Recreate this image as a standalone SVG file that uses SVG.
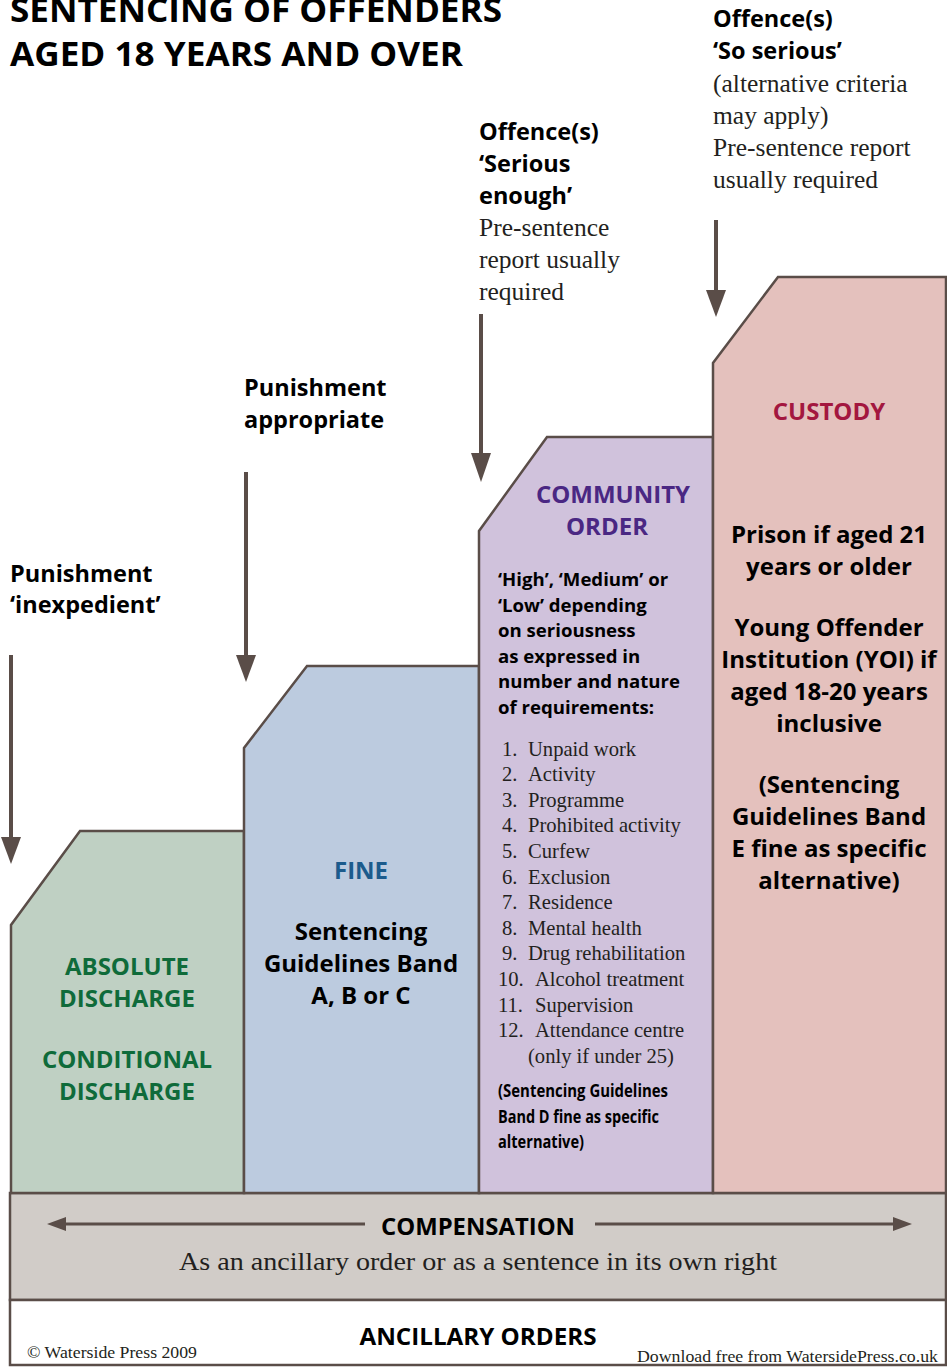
<svg xmlns="http://www.w3.org/2000/svg" width="947" height="1367" viewBox="0 0 947 1367">
<style>
.b{font-family:"Open Sans","Noto Sans",sans-serif;font-weight:700;}
.s{font-family:"Liberation Serif","Times New Roman",serif;fill:#231f20;}
.k{fill:#000;}
.col{stroke:#5a4d48;stroke-width:2.5;stroke-linejoin:miter;}
.conn{stroke:#5a4d48;stroke-width:4;fill:none;}
.ah{fill:#5a4d48;}
</style>
<rect x="0" y="0" width="947" height="1367" fill="#fff"/>

<g id="title">
<text class="b k" x="10" y="22" font-size="34" textLength="492" lengthAdjust="spacingAndGlyphs">SENTENCING OF OFFENDERS</text>
<text class="b k" x="10" y="66" font-size="34" textLength="453" lengthAdjust="spacingAndGlyphs">AGED 18 YEARS AND OVER</text>
</g>

<g id="band-compensation">
<rect x="10" y="1193" width="936" height="107" fill="#d1ccc8" class="col"/>
<text class="b k" x="478" y="1235" font-size="24" text-anchor="middle" textLength="194" lengthAdjust="spacingAndGlyphs">COMPENSATION</text>
<text class="s" x="478" y="1270" font-size="26" text-anchor="middle" textLength="598" lengthAdjust="spacingAndGlyphs">As an ancillary order or as a sentence in its own right</text>
</g>

<g id="band-ancillary">
<rect x="10" y="1300" width="936" height="65" fill="#fff" class="col"/>
<text class="b k" x="478" y="1345" font-size="24" text-anchor="middle" textLength="237" lengthAdjust="spacingAndGlyphs">ANCILLARY ORDERS</text>
<text class="s" x="27" y="1358" font-size="17" textLength="170" lengthAdjust="spacingAndGlyphs">© Waterside Press 2009</text>
<text class="s" x="938" y="1362" font-size="17" text-anchor="end" textLength="301" lengthAdjust="spacingAndGlyphs">Download free from WatersidePress.co.uk</text>
</g>

<g id="node-discharge">
<path class="col" fill="#bfd0c3" d="M11,1193 L11,925 L80,831 L244,831 L244,1193 Z"/>
<g class="b" fill="#0f6b3a" font-size="24" text-anchor="middle">
<text x="127" y="975">ABSOLUTE</text>
<text x="127" y="1007">DISCHARGE</text>
<text x="127" y="1068">CONDITIONAL</text>
<text x="127" y="1100">DISCHARGE</text>
</g>
</g>

<g id="node-fine">
<path class="col" fill="#bccbdf" d="M244,1193 L244,748 L307,666 L479,666 L479,1193 Z"/>
<text class="b" fill="#1c5b8c" font-size="24" x="361" y="879" text-anchor="middle">FINE</text>
<g class="b k" font-size="24" text-anchor="middle">
<text x="361" y="940">Sentencing</text>
<text x="361" y="972">Guidelines Band</text>
<text x="361" y="1004">A, B or C</text>
</g>
</g>

<g id="node-community">
<path class="col" fill="#d0c2dc" d="M479,1193 L479,531 L547,437 L713,437 L713,1193 Z"/>
<g class="b" fill="#4a2783" font-size="24" text-anchor="middle">
<text x="613" y="503">COMMUNITY</text>
<text x="607" y="535">ORDER</text>
</g>
<g class="b k" font-size="18.6">
<text x="498" y="586">‘High’, ‘Medium’ or</text>
<text x="498" y="612">‘Low’ depending</text>
<text x="498" y="637">on seriousness</text>
<text x="498" y="663">as expressed in</text>
<text x="498" y="688">number and nature</text>
<text x="498" y="714">of requirements:</text>
</g>
<g class="s" font-size="20.6">
<text x="502" y="756">1.</text><text x="528" y="756">Unpaid work</text>
<text x="502" y="781">2.</text><text x="528" y="781">Activity</text>
<text x="502" y="807">3.</text><text x="528" y="807">Programme</text>
<text x="502" y="832">4.</text><text x="528" y="832">Prohibited activity</text>
<text x="502" y="858">5.</text><text x="528" y="858">Curfew</text>
<text x="502" y="884">6.</text><text x="528" y="884">Exclusion</text>
<text x="502" y="909">7.</text><text x="528" y="909">Residence</text>
<text x="502" y="935">8.</text><text x="528" y="935">Mental health</text>
<text x="502" y="960">9.</text><text x="528" y="960">Drug rehabilitation</text>
<text x="498" y="986">10.</text><text x="535" y="986">Alcohol treatment</text>
<text x="498" y="1012">11.</text><text x="535" y="1012">Supervision</text>
<text x="498" y="1037">12.</text><text x="535" y="1037">Attendance centre</text>
<text x="528" y="1063">(only if under 25)</text>
</g>
<g class="b k" font-size="18">
<text x="498" y="1097" textLength="170" lengthAdjust="spacingAndGlyphs">(Sentencing Guidelines</text>
<text x="498" y="1123" textLength="161" lengthAdjust="spacingAndGlyphs">Band D fine as specific</text>
<text x="498" y="1148" textLength="86" lengthAdjust="spacingAndGlyphs">alternative)</text>
</g>
</g>

<g id="node-custody">
<path class="col" fill="#e4c1bd" d="M713,1193 L713,363 L778,277 L946,277 L946,1193 Z"/>
<text class="b" fill="#a3173f" font-size="24" x="829" y="420" text-anchor="middle">CUSTODY</text>
<g class="b k" font-size="24" text-anchor="middle">
<text x="829" y="543">Prison if aged 21</text>
<text x="829" y="575">years or older</text>
<text x="829" y="636">Young Offender</text>
<text x="829" y="668">Institution (YOI) if</text>
<text x="829" y="700">aged 18-20 years</text>
<text x="829" y="732">inclusive</text>
<text x="829" y="793">(Sentencing</text>
<text x="829" y="825">Guidelines Band</text>
<text x="829" y="857">E fine as specific</text>
<text x="829" y="889">alternative)</text>
</g>
</g>

<g id="label-inexpedient" class="b k" font-size="23.5">
<text x="10" y="582">Punishment</text>
<text x="10" y="613">‘inexpedient’</text>
</g>
<g id="label-appropriate" class="b k" font-size="23.5">
<text x="244" y="396">Punishment</text>
<text x="244" y="428">appropriate</text>
</g>
<g id="label-serious-enough">
<g class="b k" font-size="23.5">
<text x="479" y="140">Offence(s)</text>
<text x="479" y="172">‘Serious</text>
<text x="479" y="204">enough’</text>
</g>
<g class="s" font-size="25.5">
<text x="479" y="236">Pre-sentence</text>
<text x="479" y="268">report usually</text>
<text x="479" y="300">required</text>
</g>
</g>
<g id="label-so-serious">
<g class="b k" font-size="23.5">
<text x="713" y="27">Offence(s)</text>
<text x="713" y="59">‘So serious’</text>
</g>
<g class="s" font-size="25.5">
<text x="713" y="92">(alternative criteria</text>
<text x="713" y="124">may apply)</text>
<text x="713" y="156">Pre-sentence report</text>
<text x="713" y="188">usually required</text>
</g>
</g>

<g id="connectors">
<line class="conn" x1="11" y1="655" x2="11" y2="840" />
<path class="ah" d="M1,837 L21,837 L11,864 Z"/>
<line class="conn" x1="246" y1="472" x2="246" y2="658" />
<path class="ah" d="M236,655 L256,655 L246,682 Z"/>
<line class="conn" x1="481" y1="314" x2="481" y2="456" />
<path class="ah" d="M471,453 L491,453 L481,482 Z"/>
<line class="conn" x1="716" y1="220" x2="716" y2="293" />
<path class="ah" d="M706,290 L726,290 L716,317 Z"/>
<line stroke="#5a4d48" stroke-width="3" x1="64" y1="1224" x2="365" y2="1224"/>
<path class="ah" d="M47,1224 L66,1217 L66,1231 Z"/>
<line stroke="#5a4d48" stroke-width="3" x1="595" y1="1224" x2="895" y2="1224"/>
<path class="ah" d="M912,1224 L893,1217 L893,1231 Z"/>
</g>
</svg>
